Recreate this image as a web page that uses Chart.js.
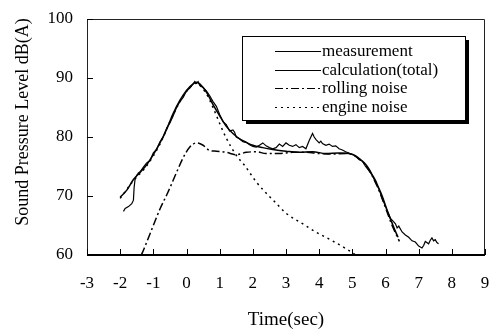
<!DOCTYPE html>
<html>
<head>
<meta charset="utf-8">
<script src="https://cdn.jsdelivr.net/npm/chart.js@4"></script>
<style>
  html, body { margin: 0; padding: 0; background: #fff; }
</style>
</head>
<body>
<canvas id="spl" width="493" height="332"></canvas>
<script>
// values
const measTime = [-1.9, -1.85, -1.75, -1.65, -1.6, -1.58, -1.55, -1.5, -1.45, -1.4, -1.3, -1.2, -1.1, -1.0, -0.9, -0.8, -0.7, -0.6, -0.5, -0.4, -0.3, -0.2, -0.1, 0.0, 0.1, 0.2, 0.25, 0.3, 0.35, 0.4, 0.5, 0.6, 0.7, 0.8, 0.9, 1.0, 1.1, 1.2, 1.3, 1.4, 1.45, 1.5, 1.6, 1.7, 1.8, 1.9, 2.0, 2.1, 2.2, 2.3, 2.4, 2.5, 2.6, 2.7, 2.8, 2.9, 3.0, 3.1, 3.2, 3.3, 3.4, 3.5, 3.6, 3.7, 3.8, 3.85, 3.9, 4.0, 4.05, 4.1, 4.2, 4.3, 4.4, 4.5, 4.6, 4.7, 4.8, 4.9, 5.0, 5.1, 5.2, 5.3, 5.4, 5.5, 5.6, 5.7, 5.8, 5.9, 6.0, 6.1, 6.15, 6.2, 6.3, 6.35, 6.4, 6.5, 6.6, 6.7, 6.8, 6.9, 7.0, 7.1, 7.15, 7.2, 7.3, 7.35, 7.4, 7.45, 7.5, 7.55, 7.6];
const measLevel = [67.4, 67.9, 68.2, 68.7, 69.3, 71.4, 72.9, 73.5, 73.9, 74.1, 74.9, 75.6, 76.0, 77.3, 77.9, 79.2, 80.0, 81.5, 82.4, 83.6, 85.0, 86.0, 86.7, 87.8, 88.3, 89.0, 89.4, 89.1, 89.4, 88.7, 88.4, 87.8, 87.0, 86.0, 85.2, 83.8, 82.6, 82.1, 81.0, 81.2, 80.8, 80.0, 79.7, 79.2, 79.1, 78.7, 78.4, 78.3, 78.6, 79.0, 78.5, 78.2, 78.0, 78.2, 78.8, 78.4, 79.0, 78.6, 78.4, 78.7, 78.2, 78.4, 78.0, 79.4, 80.6, 80.0, 79.6, 79.0, 79.3, 78.9, 78.6, 78.8, 78.4, 78.5, 78.0, 77.8, 77.5, 77.3, 77.0, 76.8, 76.2, 75.9, 75.0, 74.3, 73.5, 72.3, 71.2, 69.6, 68.2, 66.9, 66.2, 65.9, 65.3, 64.6, 64.9, 63.9, 63.4, 63.0, 62.4, 62.2, 61.5, 61.2, 61.6, 62.3, 61.9, 62.5, 62.9, 62.4, 62.6, 62.1, 61.9];

const calcTime = [-2.0, -1.8, -1.6, -1.4, -1.2, -1.0, -0.8, -0.6, -0.4, -0.2, 0.0, 0.2, 0.3, 0.4, 0.6, 0.8, 1.0, 1.2, 1.4, 1.6, 1.8, 2.0, 2.3, 2.6, 3.0, 3.4, 3.8, 4.2, 4.6, 5.0, 5.2, 5.4, 5.5, 5.6, 5.7, 5.8, 5.9, 6.0, 6.1, 6.2, 6.3, 6.38];
const calcLevel = [69.8, 71.0, 72.8, 74.0, 75.3, 77.0, 79.0, 81.3, 84.0, 86.2, 87.9, 89.0, 89.3, 89.0, 87.6, 85.5, 83.6, 81.8, 80.6, 79.7, 79.1, 78.6, 78.2, 77.9, 77.6, 77.4, 77.5, 77.2, 77.3, 77.1, 76.4, 75.4, 74.6, 73.6, 72.6, 71.3, 70.0, 68.4, 66.8, 65.4, 64.0, 63.0];

const rollTime = [-1.36, -1.27, -1.0, -0.8, -0.57, -0.3, -0.1, 0.1, 0.3, 0.5, 0.7, 0.9, 1.2, 1.5, 1.8, 2.1, 2.4, 2.8, 3.2, 3.6, 4.0, 4.4, 4.8, 5.0, 5.2, 5.4, 5.6, 5.8, 6.0, 6.2, 6.42];
const rollLevel = [60.0, 61.2, 65.0, 67.8, 70.5, 74.0, 76.5, 78.3, 79.0, 78.6, 77.7, 77.6, 77.4, 77.0, 77.4, 77.5, 77.2, 77.2, 77.4, 77.4, 77.2, 77.1, 77.2, 77.0, 76.3, 75.3, 73.4, 71.0, 68.0, 65.0, 62.3];

const engTime = [-2.0, -1.6, -1.2, -0.8, -0.4, 0.0, 0.3, 0.6, 0.8, 1.0, 1.2, 1.5, 1.75, 2.1, 2.4, 2.7, 3.0, 3.5, 3.9, 4.4, 4.8, 5.1];
const engLevel = [69.6, 72.6, 75.1, 78.8, 83.8, 87.7, 89.1, 87.3, 85.0, 82.3, 79.8, 76.9, 75.2, 72.4, 70.5, 68.8, 67.1, 65.3, 63.9, 62.4, 61.1, 60.0];

const seriesNames = ['measurement', 'calculation(total)', 'rolling noise', 'engine noise'];

const pts = (xs, ys) => xs.map((x, i) => ({x: x, y: ys[i]}));
const serif = 'Liberation Serif';

const decor = {
    id: 'decor',
    afterDatasetsDraw(chart) {
        const ctx = chart.ctx;
        const a = chart.chartArea;
        const xs = chart.scales.x, ys = chart.scales.y;
        ctx.save();
        // plot frame
        ctx.strokeStyle = '#222';
        ctx.lineWidth = 1;
        ctx.beginPath();
        ctx.moveTo(a.left + 0.5, a.bottom);
        ctx.lineTo(a.left + 0.5, a.top + 0.5);
        ctx.lineTo(a.right - 0.5, a.top + 0.5);
        ctx.lineTo(a.right - 0.5, a.bottom);
        ctx.stroke();
        ctx.strokeStyle = '#000';
        ctx.lineWidth = 2;
        ctx.beginPath();
        ctx.moveTo(a.left, a.bottom);
        ctx.lineTo(a.right, a.bottom);
        ctx.stroke();
        // inward tick marks
        ctx.lineWidth = 1;
        xs.ticks.forEach(t => {
            const px = Math.round(xs.getPixelForValue(t.value)) + 0.5;
            ctx.beginPath();
            ctx.moveTo(px, a.bottom);
            ctx.lineTo(px, a.bottom - 6);
            ctx.stroke();
        });
        ys.ticks.forEach(t => {
            const py = Math.round(ys.getPixelForValue(t.value)) + 0.5;
            ctx.beginPath();
            ctx.moveTo(a.left, py);
            ctx.lineTo(a.left + 6, py);
            ctx.stroke();
        });

        // legend box with shadow
        const bx = 242, by = 36, bw = 223, bh = 84;
        ctx.fillStyle = '#000';
        ctx.fillRect(bx + 4, by + 4, bw, bh);
        ctx.fillStyle = '#fff';
        ctx.fillRect(bx, by, bw, bh);
        ctx.strokeStyle = '#000';
        ctx.strokeRect(bx + 0.5, by + 0.5, bw, bh);
        ctx.font = '17px "' + serif + '"';
        ctx.textBaseline = 'middle';
        ctx.fillStyle = '#000';
        chart.data.datasets.forEach((ds, i) => {
            const ry = Math.round(51 + i * 18.6) + 0.5;
            ctx.setLineDash(ds.borderDash || []);
            ctx.lineWidth = 1;
            ctx.beginPath();
            ctx.moveTo(275, ry);
            ctx.lineTo(321, ry);
            ctx.stroke();
            ctx.setLineDash([]);
            ctx.fillText(ds.label, 322, ry);
        });

        // axis titles
        ctx.textAlign = 'center';
        ctx.font = '19px "' + serif + '"';
        ctx.fillText('Time(sec)', (a.left + a.right) / 2, 320);
        ctx.translate(23, 122);
        ctx.rotate(-Math.PI / 2);
        ctx.font = '18px "' + serif + '"';
        ctx.fillText('Sound Pressure Level dB(A)', 0, 0);
        ctx.restore();
    }
};

new Chart(document.getElementById('spl'), {
    type: 'line',
    data: {
        datasets: [
            {label: seriesNames[0], data: pts(measTime, measLevel), borderColor: '#000', borderWidth: 1.2, tension: 0},
            {label: seriesNames[1], data: pts(calcTime, calcLevel), borderColor: '#000', borderWidth: 1.5, cubicInterpolationMode: 'monotone'},
            {label: seriesNames[2], data: pts(rollTime, rollLevel), borderColor: '#000', borderWidth: 1.5, borderDash: [8, 3, 2, 3], cubicInterpolationMode: 'monotone'},
            {label: seriesNames[3], data: pts(engTime, engLevel), borderColor: '#000', borderWidth: 1.5, borderDash: [2, 4], cubicInterpolationMode: 'monotone'}
        ]
    },
    options: {
        responsive: false,
        animation: false,
        elements: {point: {radius: 0}},
        layout: {padding: {left: 0, right: 8, top: 19, bottom: 0}},
        plugins: {legend: {display: false}, tooltip: {enabled: false}},
        scales: {
            x: {
                type: 'linear', min: -3, max: 9,
                ticks: {stepSize: 1, padding: 18, color: '#000', font: {family: serif, size: 17}},
                grid: {display: false, drawTicks: false},
                border: {display: false},
                afterFit(s) { s.height = 77; s.paddingLeft = 0; s.paddingRight = 0; }
            },
            y: {
                min: 60, max: 100,
                ticks: {stepSize: 10, padding: 14, color: '#000', font: {family: serif, size: 17}},
                grid: {display: false, drawTicks: false},
                border: {display: false},
                afterFit(s) { s.width = 87; s.paddingTop = 0; s.paddingBottom = 0; }
            }
        }
    },
    plugins: [decor]
});
</script>
</body>
</html>
